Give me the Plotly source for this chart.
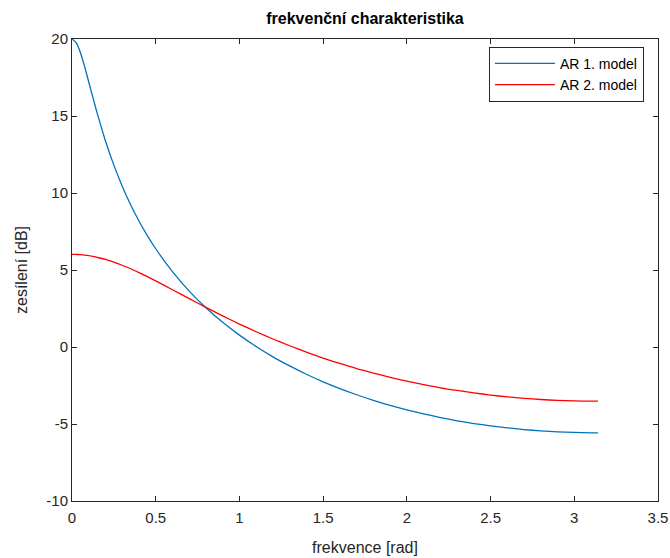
import plotly.graph_objects as go

freq = [0, 0.025, 0.05, 0.075, 0.1, 0.125, 0.15, 0.2, 0.25, 0.3, 0.35, 0.4, 0.45, 0.5, 0.6,
        0.7, 0.8, 0.9, 1.0, 1.1, 1.2, 1.3, 1.4, 1.5, 1.6, 1.7, 1.8, 1.9, 2.0, 2.1, 2.2,
        2.3, 2.4, 2.5, 2.6, 2.7, 2.8, 2.9, 3.0, 3.1, 3.1416]
ar1_db = [20.00, 19.76, 19.12, 18.22, 17.21, 16.19, 15.20, 13.38, 11.81, 10.44, 9.24, 8.18,
          7.23, 6.38, 4.89, 3.63, 2.55, 1.60, 0.77, 0.03, -0.64, -1.23, -1.77, -2.26,
          -2.70, -3.10, -3.46, -3.79, -4.08, -4.34, -4.58, -4.79, -4.97, -5.12, -5.25,
          -5.36, -5.45, -5.51, -5.55, -5.57, -5.58]
ar2_db = [6.02, 6.01, 6.00, 5.97, 5.93, 5.88, 5.82, 5.69, 5.51, 5.31, 5.08, 4.83, 4.57,
          4.29, 3.72, 3.14, 2.57, 2.02, 1.49, 0.99, 0.52, 0.08, -0.33, -0.72, -1.07,
          -1.40, -1.69, -1.97, -2.22, -2.44, -2.65, -2.82, -2.98, -3.12, -3.24, -3.33,
          -3.41, -3.47, -3.50, -3.52, -3.52]

x_ticks = [0, 0.5, 1, 1.5, 2, 2.5, 3, 3.5]
y_ticks = [-10, -5, 0, 5, 10, 15, 20]

fig = go.Figure()
fig.add_trace(go.Scatter(x=freq, y=ar1_db, mode="lines", name="AR 1. model",
                         line=dict(color="#0072BD", width=1.3, shape="spline", smoothing=0.6)))
fig.add_trace(go.Scatter(x=freq, y=ar2_db, mode="lines", name="AR 2. model",
                         line=dict(color="#FF0000", width=1.3, shape="spline", smoothing=0.6)))

font_family = "Liberation Sans, Arial, sans-serif"
axis_common = dict(showgrid=False, zeroline=False, showline=True, linecolor="#262626",
                   linewidth=1, mirror="ticks", ticks="inside", ticklen=5,
                   tickcolor="#262626", automargin=False,
                   tickfont=dict(size=15, color="#262626", family=font_family))

fig.update_layout(
    width=670, height=558,
    margin=dict(l=72, r=12, t=39, b=57),
    paper_bgcolor="white", plot_bgcolor="white",
    title=dict(text="<b>frekvenční charakteristika</b>", x=0.5, xanchor="center",
               y=1 - 18 / 558, yanchor="middle",
               xref="paper", font=dict(size=16, color="black", family=font_family)),
    xaxis=dict(range=[0, 3.5], tickvals=x_ticks, ticktext=[str(v) for v in x_ticks],
               ticklabelstandoff=3,
               title=dict(text="frekvence [rad]", standoff=16,
                          font=dict(size=16, color="#262626", family=font_family)),
               **axis_common),
    yaxis=dict(range=[-10, 20], tickvals=y_ticks, ticktext=[str(v) for v in y_ticks],
               title=dict(text="zesílení [dB]", standoff=14,
                          font=dict(size=16, color="#262626", family=font_family)),
               **axis_common),
    legend=dict(x=0.976, y=0.983, xanchor="right", yanchor="top",
                bordercolor="#262626", borderwidth=1, bgcolor="white",
                font=dict(size=14, color="black", family=font_family),
                itemwidth=60, tracegroupgap=0),
    showlegend=True,
)

fig.write_html("out.html")
